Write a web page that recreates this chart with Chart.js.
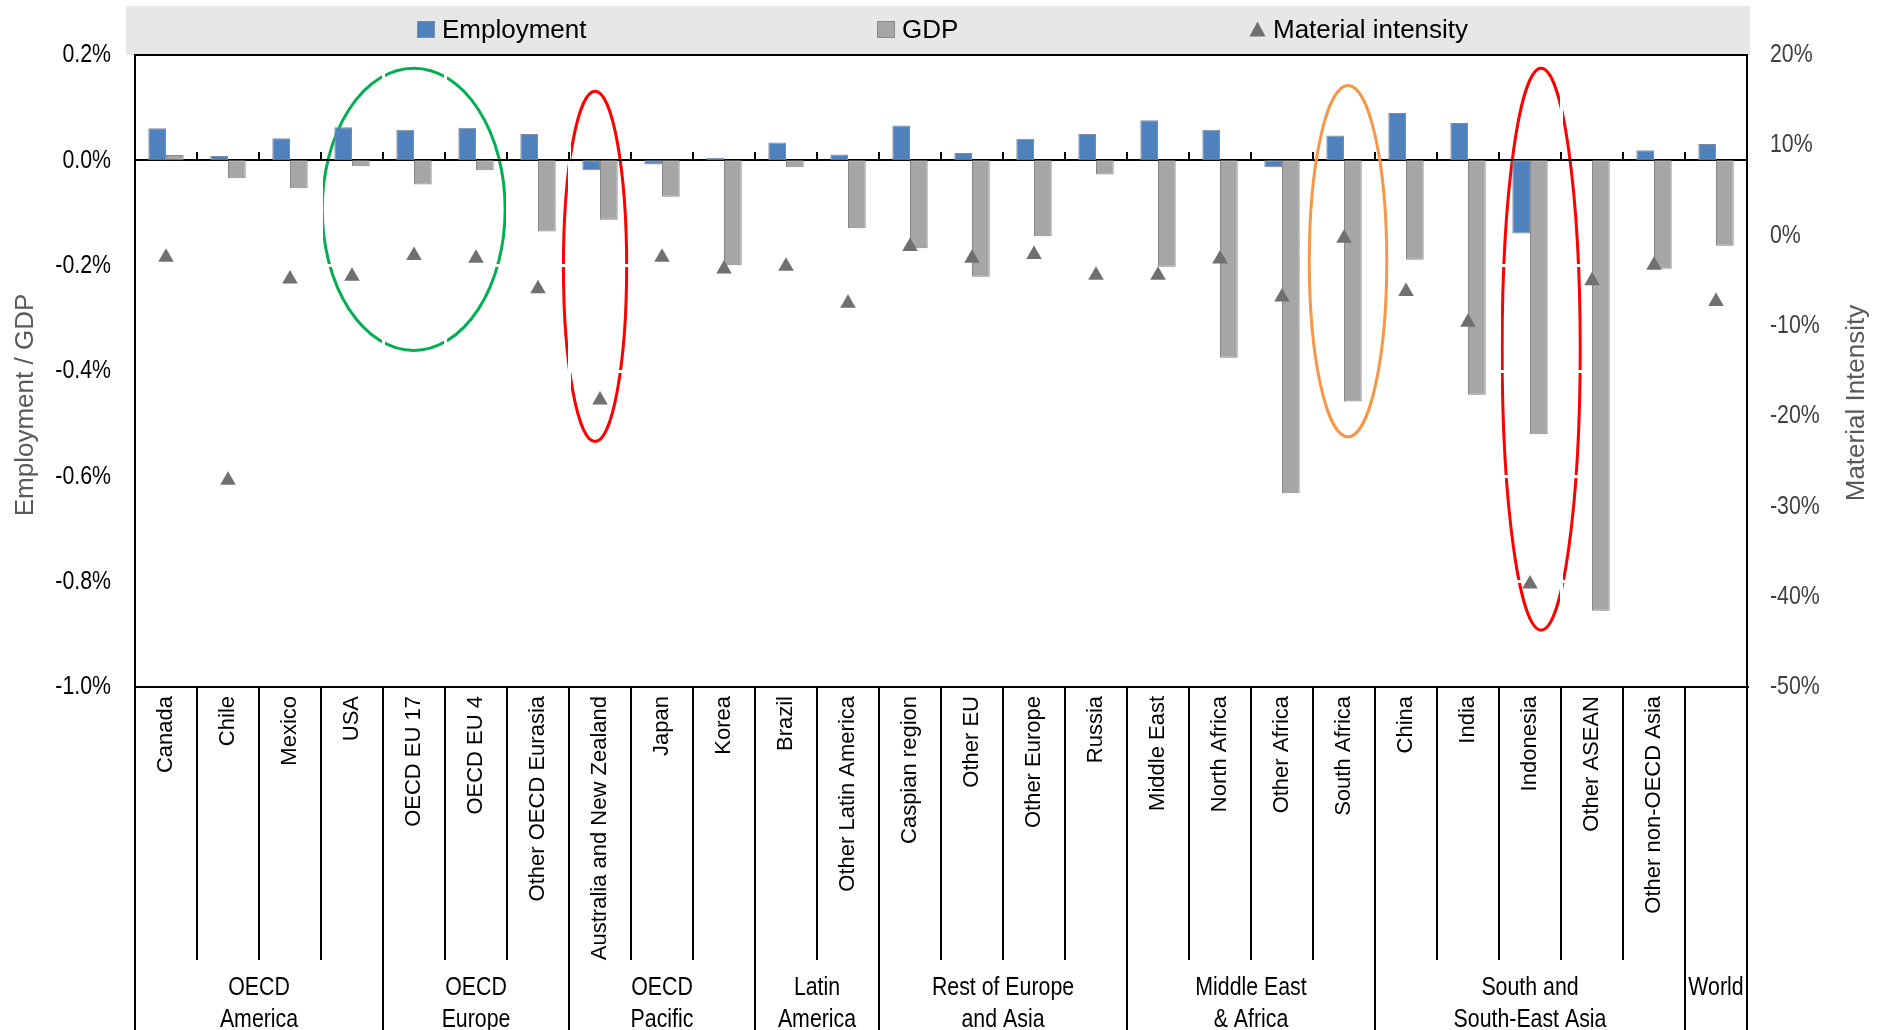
<!DOCTYPE html>
<html>
<head>
<meta charset="utf-8">
<script src="https://cdn.jsdelivr.net/npm/chart.js@4.4.1/dist/chart.umd.min.js"></script>
<style>
  html, body { margin: 0; padding: 0; background: #ffffff; overflow: hidden; }
  canvas { display: block; }
</style>
</head>
<body>
<canvas id="chart" width="1878" height="1030"></canvas>
<script>
// Regions, in display order
const categories = [
  'Canada', 'Chile', 'Mexico', 'USA',
  'OECD EU 17', 'OECD EU 4', 'Other OECD Eurasia',
  'Australia and New Zealand', 'Japan', 'Korea',
  'Brazil', 'Other Latin America',
  'Caspian region', 'Other EU', 'Other Europe', 'Russia',
  'Middle East', 'North Africa', 'Other Africa', 'South Africa',
  'China', 'India', 'Indonesia', 'Other ASEAN', 'Other non-OECD Asia',
  'World'
];

// Region groups shown under the category labels
const groupNames = [
  ['OECD', 'America'], ['OECD', 'Europe'], ['OECD', 'Pacific'], ['Latin', 'America'],
  ['Rest of Europe', 'and Asia'], ['Middle East', '& Africa'], ['South and', 'South-East Asia'], ['World']
];
const groupSizes = [4, 3, 3, 2, 4, 4, 5, 1];

// Change in employment and GDP (%, left axis)
const employment = [
  0.061, 0.008, 0.042, 0.063,
  0.058, 0.062, 0.050,
  -0.019, -0.008, 0.005,
  0.034, 0.011,
  0.066, 0.014, 0.041, 0.050,
  0.076, 0.058, -0.013, 0.047,
  0.090, 0.071, -0.139, 0.000, 0.019,
  0.031
];
const gdp = [
  0.010, -0.034, -0.053, -0.011,
  -0.046, -0.019, -0.135,
  -0.113, -0.069, -0.199,
  -0.013, -0.129,
  -0.167, -0.221, -0.144, -0.027,
  -0.202, -0.375, -0.632, -0.458,
  -0.189, -0.445, -0.520, -0.855, -0.206,
  -0.162
];

// Change in material intensity (%, right axis)
const materialIntensity = [
  -2.4, -27.1, -4.8, -4.5,
  -2.2, -2.5, -5.9,
  -18.2, -2.4, -3.7,
  -3.4, -7.5,
  -1.2, -2.5, -2.1, -4.4,
  -4.4, -2.6, -6.8, -0.3,
  -6.2, -9.6, -38.6, -5.0, -3.3,
  -7.3
];

// Axis ranges
const leftTicks = { min: -1.0, max: 0.2, step: 0.2 };
const rightTicks = { min: -50, max: 20, step: 10 };

// Highlight rings, in category-index / left-axis units
const rings = [
  { from: 2.52, to: 5.47, top: 0.175, bottom: -0.361, color: '#00B050', overGrid: false },
  { from: 6.41, to: 7.43, top: 0.131, bottom: -0.534, color: '#FF0000', overGrid: false },
  { from: 18.44, to: 19.69, top: 0.142, bottom: -0.525, color: '#F79646', overGrid: true },
  { from: 21.55, to: 22.81, top: 0.175, bottom: -0.892, color: '#FF0000', overGrid: false }
];

const SANS = '"Liberation Sans", Arial, sans-serif';
const NARROW_SCALE = 0.82; // condensed face drawn by horizontal squeeze

const isZero = v => Math.abs(v) < 1e-9;
const isTop = v => v > leftTicks.max - 1e-6;
const leftLabel = v => (isZero(v) ? 0 : v).toFixed(1) + '%';
const rightLabel = v => Math.round(v) + '%';

function drawRing(ctx, x, y, r) {
  const x0 = x.getPixelForValue(r.from), x1 = x.getPixelForValue(r.to);
  const y0 = y.getPixelForValue(r.top), y1 = y.getPixelForValue(r.bottom);
  ctx.beginPath();
  ctx.ellipse((x0 + x1) / 2, (y0 + y1) / 2, (x1 - x0) / 2, (y1 - y0) / 2, 0, 0, Math.PI * 2);
  ctx.strokeStyle = r.color;
  ctx.lineWidth = 3;
  ctx.stroke();
}

function narrowText(ctx, text, px, py, align) {
  ctx.save();
  ctx.translate(px, py);
  ctx.scale(NARROW_SCALE, 1);
  ctx.textAlign = align;
  ctx.fillText(text, 0, 0);
  ctx.restore();
}

const decorations = {
  id: 'decorations',
  beforeDraw(chart) {
    const { ctx, chartArea: a, scales: { x, y } } = chart;
    ctx.save();
    // legend band
    ctx.fillStyle = '#E7E7E7';
    ctx.fillRect(a.left - 9, 6, a.right - a.left + 12, a.top - 6);
    rings.filter(r => !r.overGrid).forEach(r => drawRing(ctx, x, y, r));
    ctx.restore();
  },
  beforeDatasetsDraw(chart) {
    const { ctx, scales: { x, y } } = chart;
    ctx.save();
    rings.filter(r => r.overGrid).forEach(r => drawRing(ctx, x, y, r));
    // tick marks on the zero line at category boundaries
    const y0 = Math.round(y.getPixelForValue(0));
    ctx.strokeStyle = '#000';
    ctx.lineWidth = 2;
    for (let b = 1; b < categories.length; b++) {
      const px = Math.round(x.getPixelForValue(b - 0.5));
      ctx.beginPath();
      ctx.moveTo(px, y0 - 8);
      ctx.lineTo(px, y0);
      ctx.stroke();
    }
    ctx.restore();
  },
  afterDraw(chart) {
    const { ctx, chartArea: a, scales: { x, y, y2 }, height } = chart;
    const ds = chart.data.datasets;
    ctx.save();

    // value axis labels (condensed)
    ctx.font = '26px ' + SANS;
    ctx.textBaseline = 'middle';
    ctx.fillStyle = '#000000';
    y.ticks.forEach(t => narrowText(ctx, leftLabel(t.value), a.left - 24, y.getPixelForValue(t.value), 'right'));
    ctx.fillStyle = '#404040';
    y2.ticks.forEach(t => narrowText(ctx, rightLabel(t.value), a.right + 23, y2.getPixelForValue(t.value), 'left'));

    // legend
    ctx.font = '26px ' + SANS;
    ctx.textBaseline = 'alphabetic';
    ctx.textAlign = 'left';
    const sq = (x0, d) => {
      ctx.fillStyle = d.backgroundColor;
      ctx.fillRect(x0, 21, 18, 17);
      ctx.strokeStyle = d.borderColor;
      ctx.lineWidth = 1;
      ctx.strokeRect(x0 + 0.5, 21.5, 17, 16);
    };
    sq(417, ds[0]);
    ctx.fillStyle = '#000';
    ctx.fillText(ds[0].label, 442, 37.5);
    sq(877, ds[1]);
    ctx.fillStyle = '#000';
    ctx.fillText(ds[1].label, 902, 37.5);
    ctx.fillStyle = ds[2].backgroundColor;
    ctx.beginPath();
    ctx.moveTo(1257.5, 21.5);
    ctx.lineTo(1265.5, 36.5);
    ctx.lineTo(1249.5, 36.5);
    ctx.closePath();
    ctx.fill();
    ctx.fillStyle = '#000';
    ctx.fillText(ds[2].label, 1273, 37.5);

    // separators under the axis
    ctx.strokeStyle = '#000';
    ctx.lineWidth = 2;
    const groupEdges = new Set([0]);
    let acc = 0;
    groupSizes.forEach(n => { acc += n; groupEdges.add(acc); });
    for (let b = 0; b <= categories.length; b++) {
      const px = Math.round(x.getPixelForValue(b - 0.5));
      ctx.beginPath();
      ctx.moveTo(px, a.bottom);
      ctx.lineTo(px, groupEdges.has(b) ? height : a.bottom + 273);
      ctx.stroke();
    }

    // group labels (condensed)
    ctx.font = '26px ' + SANS;
    ctx.textBaseline = 'alphabetic';
    ctx.fillStyle = '#000';
    let start = 0;
    groupSizes.forEach((n, g) => {
      const xl = x.getPixelForValue(start - 0.5);
      const xr = x.getPixelForValue(start + n - 0.5);
      groupNames[g].forEach((line, k) => narrowText(ctx, line, (xl + xr) / 2, a.bottom + 308 + 32 * k, 'center'));
      start += n;
    });

    // axis titles
    ctx.font = '26px ' + SANS;
    ctx.fillStyle = '#595959';
    ctx.textBaseline = 'middle';
    ctx.textAlign = 'center';
    ctx.save();
    ctx.translate(26, 405);
    ctx.rotate(-Math.PI / 2);
    ctx.fillText('Employment / GDP', 0, 0);
    ctx.restore();
    ctx.save();
    ctx.translate(1857, 403);
    ctx.rotate(-Math.PI / 2);
    ctx.fillText('Material Intensity', 0, 0);
    ctx.restore();

    ctx.restore();
  }
};

new Chart(document.getElementById('chart'), {
  type: 'bar',
  data: {
    labels: categories,
    datasets: [
      {
        label: 'Employment',
        data: employment,
        backgroundColor: '#4F81BD',
        borderColor: '#7D8CA3',
        borderWidth: 1,
        borderSkipped: false,
        categoryPercentage: 0.571,
        barPercentage: 1.0,
        yAxisID: 'y',
        order: 1
      },
      {
        label: 'GDP',
        data: gdp,
        backgroundColor: '#A6A6A6',
        borderColor: '#878787',
        borderWidth: 1,
        borderSkipped: false,
        categoryPercentage: 0.571,
        barPercentage: 1.0,
        yAxisID: 'y',
        order: 2
      },
      {
        type: 'line',
        label: 'Material intensity',
        data: materialIntensity,
        showLine: false,
        pointStyle: 'triangle',
        pointRadius: 9,
        pointHoverRadius: 9,
        backgroundColor: '#707070',
        borderColor: '#707070',
        borderWidth: 0,
        yAxisID: 'y2',
        order: 0
      }
    ]
  },
  options: {
    responsive: false,
    animation: false,
    devicePixelRatio: 1,
    layout: { padding: { top: 55, left: 0, right: 0, bottom: 0 } },
    plugins: { legend: { display: false }, tooltip: { enabled: false } },
    scales: {
      x: {
        offset: true,
        grid: { offset: true, color: '#ffffff', lineWidth: 3, drawTicks: false },
        border: { display: true, color: '#000000', width: 2 },
        ticks: {
          autoSkip: false,
          minRotation: 90,
          maxRotation: 90,
          padding: 9,
          color: '#000000',
          font: { family: SANS, size: 22 },
          callback: (v, i) => (i === categories.length - 1 ? '' : categories[i])
        },
        afterFit(s) { s.height = 343; }
      },
      y: {
        position: 'left',
        min: leftTicks.min,
        max: leftTicks.max,
        ticks: { stepSize: leftTicks.step, display: false },
        grid: {
          drawTicks: false,
          color: c => (isZero(c.tick.value) || isTop(c.tick.value)) ? '#000000' : '#ffffff',
          lineWidth: c => (isZero(c.tick.value) || isTop(c.tick.value)) ? 2 : 3
        },
        border: { display: true, color: '#000000', width: 2 },
        afterFit(s) { s.width = 135; }
      },
      y2: {
        position: 'right',
        min: rightTicks.min,
        max: rightTicks.max,
        ticks: { stepSize: rightTicks.step, display: false },
        grid: { display: false, drawTicks: false },
        border: { display: true, color: '#000000', width: 2 },
        afterFit(s) { s.width = 131; }
      }
    }
  },
  plugins: [decorations]
});
</script>
</body>
</html>
